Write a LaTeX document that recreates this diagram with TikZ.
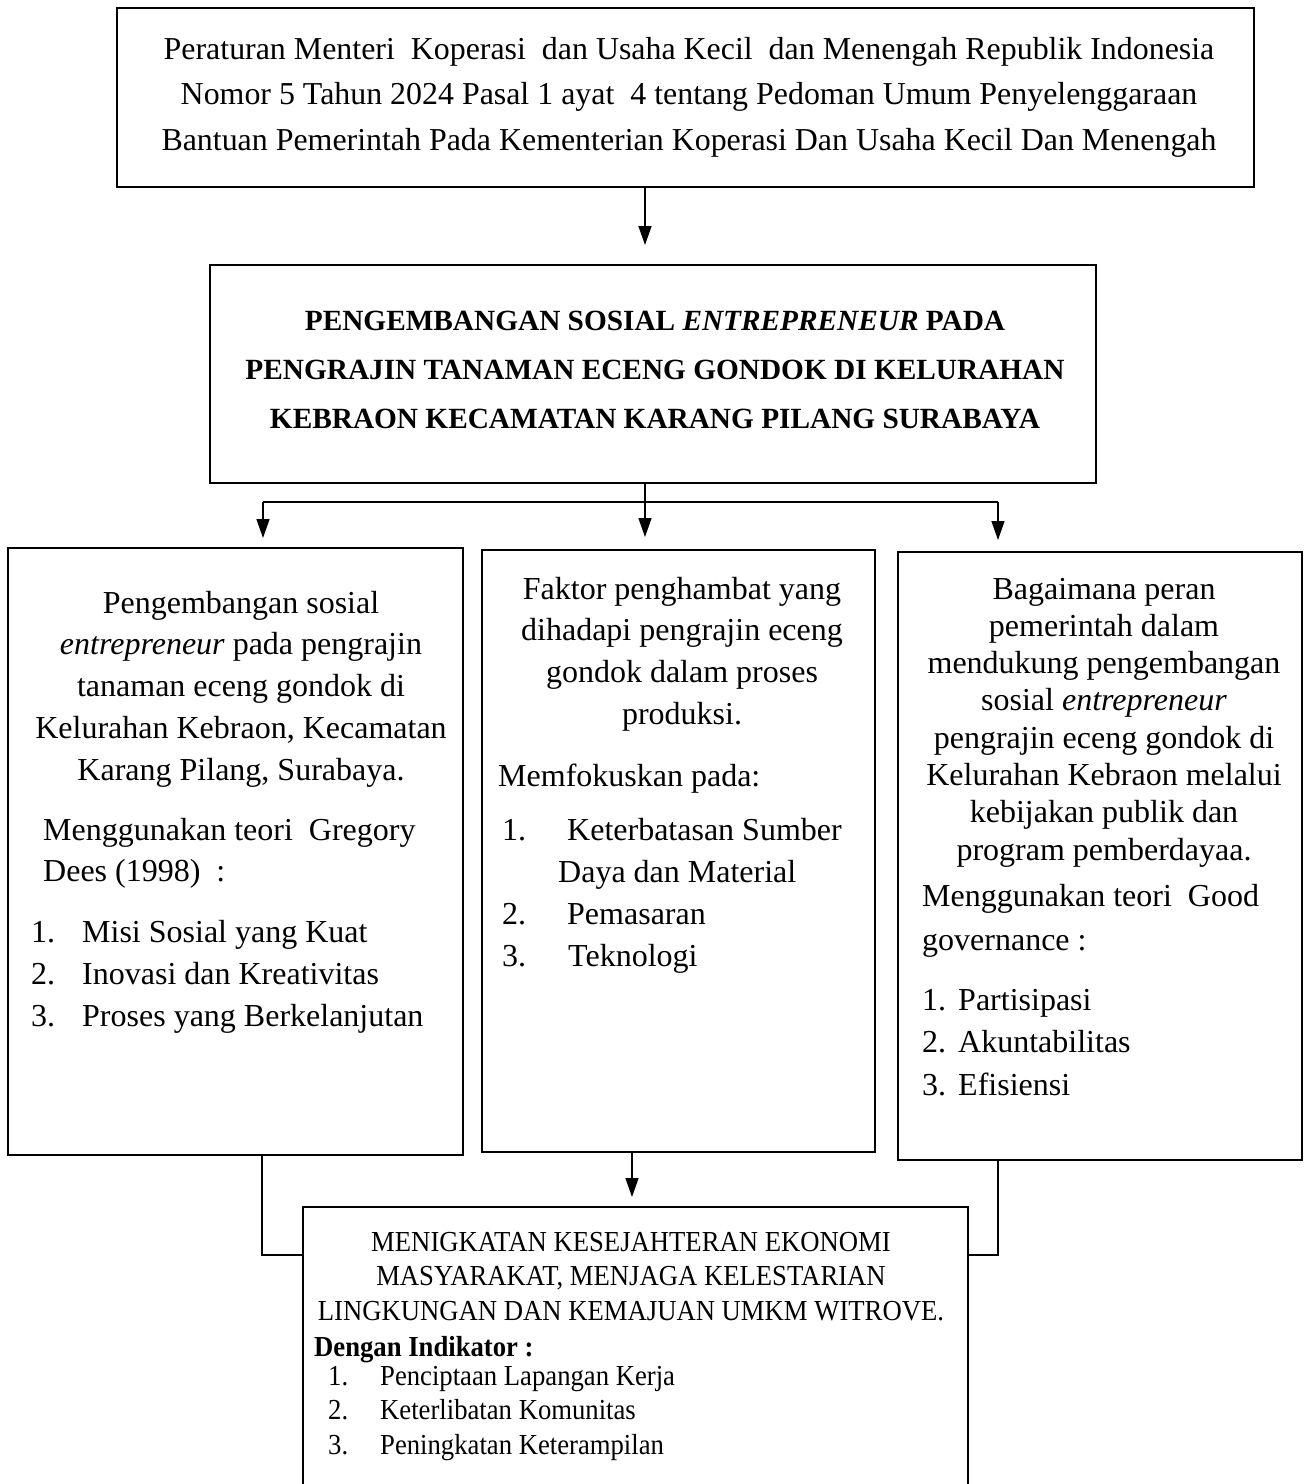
\documentclass[tikz,border=0pt]{standalone}
\usepackage{fontspec}
\setmainfont{Liberation Serif}
\newfontfamily\narrowfont[FakeStretch=0.92]{Liberation Serif}
\usetikzlibrary{arrows.meta}
\begin{document}
\begin{tikzpicture}[x=1pt,y=-1pt,
  box/.style={draw, line width=2.6pt, inner sep=0pt, rectangle},
  conn/.style={line width=1.4pt},
  arr/.style={conn, -{Triangle[length=19pt,width=13pt]}},
  txt/.style={anchor=base, inner sep=0pt},
  ltxt/.style={anchor=base west, inner sep=0pt},
  body/.style={font=\fontsize{32}{38}\selectfont},
  topf/.style={font=\fontsize{31.9}{38}\selectfont},
  titf/.style={font=\bfseries\fontsize{29.3}{34}\selectfont},
  botf/.style={font=\narrowfont\fontsize{29}{34}\selectfont},
  botb/.style={font=\narrowfont\bfseries\fontsize{29}{34}\selectfont}]
\useasboundingbox (0,0) rectangle (1310,1484);
\clip (0,0) rectangle (1310,1484);
\fill[white] (0,0) rectangle (1310,1484);

% boxes
\node[box, minimum width=1137pt, minimum height=179pt] (reg) at (685.5,97.5) {};
\node[box, minimum width=886pt, minimum height=218pt] (title) at (653,374) {};
\node[box, minimum width=455pt, minimum height=607pt] (left) at (235.5,851.5) {};
\node[box, minimum width=393pt, minimum height=602pt] (mid) at (678.5,851) {};
\node[box, minimum width=404pt, minimum height=608pt] (right) at (1100,856) {};
\node[box, minimum width=665pt, minimum height=293pt] (bottom) at (635.5,1353.5) {};

% connectors
\coordinate (t1) at (645,245);
\draw[arr] (reg.south -| t1) -- (t1);
\coordinate (jl) at (263,502);
\coordinate (jr) at (998,502);
\coordinate (tl) at (263,538);
\coordinate (tm) at (645,537);
\coordinate (tr) at (998,540);
\draw[conn] (jl) -- (jr);
\draw[arr] (title.south -| tm) -- (tm);
\draw[arr] (jl) -- (tl);
\draw[arr] (jr) -- (tr);
\coordinate (tb) at (632,1197);
\draw[arr] (mid.south -| tb) -- (tb);
\coordinate (cl) at (262,1255);
\coordinate (cr) at (998,1255);
\draw[conn] (left.south -| cl) -- (cl) -- (cl -| bottom.west);
\draw[conn] (right.south -| cr) -- (cr) -- (cr -| bottom.east);

% top text
\foreach \s [count=\i from 0] in {{Peraturan Menteri\ \ Koperasi\ \ dan Usaha Kecil\ \ dan Menengah Republik Indonesia}, {Nomor 5 Tahun 2024 Pasal 1 ayat\ \ 4 tentang Pedoman Umum Penyelenggaraan}, {Bantuan Pemerintah Pada Kementerian Koperasi Dan Usaha Kecil Dan Menengah}}
  \node[txt, topf] (r\i) at (689, {59+45.5*\i}) {\s};

% title text
\foreach \s [count=\i from 0] in {{PENGEMBANGAN SOSIAL \textit{ENTREPRENEUR} PADA}, {PENGRAJIN TANAMAN ECENG GONDOK DI KELURAHAN}, {KEBRAON KECAMATAN KARANG PILANG SURABAYA}}
  \node[txt, titf] (h\i) at (655, {330+49*\i}) {\s};

% left box
\foreach \s [count=\i from 0] in {{Pengembangan sosial}, {\textit{entrepreneur} pada pengrajin}, {tanaman eceng gondok di}, {Kelurahan Kebraon, Kecamatan}, {Karang Pilang, Surabaya.}}
  \node[txt, body] (la\i) at (241, {613+41.8*\i}) {\s};
\node[ltxt, body] (lb0) at (43,840) {Menggunakan teori\ \ Gregory};
\node[ltxt, body] (lb1) at (43,881) {Dees (1998)\ \ :};
\foreach \s [count=\i from 0] in {{Misi Sosial yang Kuat}, {Inovasi dan Kreativitas}, {Proses yang Berkelanjutan}} {
  \pgfmathtruncatemacro{\n}{\i+1}
  \node[ltxt, body] (ln\i) at (31, {942+42*\i}) {\n.};
  \node[ltxt, body] (lt\i) at (82, {942+42*\i}) {\s};
}

% middle box
\foreach \s [count=\i from 0] in {{Faktor penghambat yang}, {dihadapi pengrajin eceng}, {gondok dalam proses}, {produksi.}}
  \node[txt, body] (ma\i) at (682, {599+41.7*\i}) {\s};
\node[ltxt, body] (mb) at (498,786) {Memfokuskan pada:};
\node[ltxt, body] (mn0) at (502,840) {1.};
\node[ltxt, body] (mt0) at (567,840) {Keterbatasan Sumber};
\node[ltxt, body] (mt0b) at (558,882) {Daya dan Material};
\node[ltxt, body] (mn1) at (502,924) {2.};
\node[ltxt, body] (mt1) at (567,924) {Pemasaran};
\node[ltxt, body] (mn2) at (502,966) {3.};
\node[ltxt, body] (mt2) at (568,966) {Teknologi};

% right box
\foreach \s [count=\i from 0] in {{Bagaimana peran}, {pemerintah dalam}, {mendukung pengembangan}, {sosial \textit{entrepreneur}}, {pengrajin eceng gondok di}, {Kelurahan Kebraon melalui}, {kebijakan publik dan}, {program pemberdayaa.}}
  \node[txt, body] (ra\i) at (1104, {599+37.3*\i}) {\s};
\node[ltxt, body] (rb0) at (922,906) {Menggunakan teori\ \ Good};
\node[ltxt, body] (rb1) at (922,950) {governance :};
\foreach \s [count=\i from 0] in {Partisipasi, Akuntabilitas, Efisiensi} {
  \pgfmathtruncatemacro{\n}{\i+1}
  \node[ltxt, body] (rn\i) at (922, {1010+42.5*\i}) {\n.};
  \node[ltxt, body] (rt\i) at (958, {1010+42.5*\i}) {\s};
}

% bottom box
\foreach \s [count=\i from 0] in {{MENIGKATAN KESEJAHTERAN EKONOMI}, {MASYARAKAT, MENJAGA KELESTARIAN}, {LINGKUNGAN DAN KEMAJUAN UMKM WITROVE.}}
  \node[txt, botf] (ba\i) at (631, {1251+34.5*\i}) {\s};
\node[ltxt, botb] (bb) at (314,1356) {Dengan Indikator :};
\foreach \s [count=\i from 0] in {{Penciptaan Lapangan Kerja}, {Keterlibatan Komunitas}, {Peningkatan Keterampilan}} {
  \pgfmathtruncatemacro{\n}{\i+1}
  \node[ltxt, botf] (bn\i) at (328, {1385+34.5*\i}) {\n.};
  \node[ltxt, botf] (bt\i) at (380, {1385+34.5*\i}) {\s};
}
\end{tikzpicture}
\end{document}
